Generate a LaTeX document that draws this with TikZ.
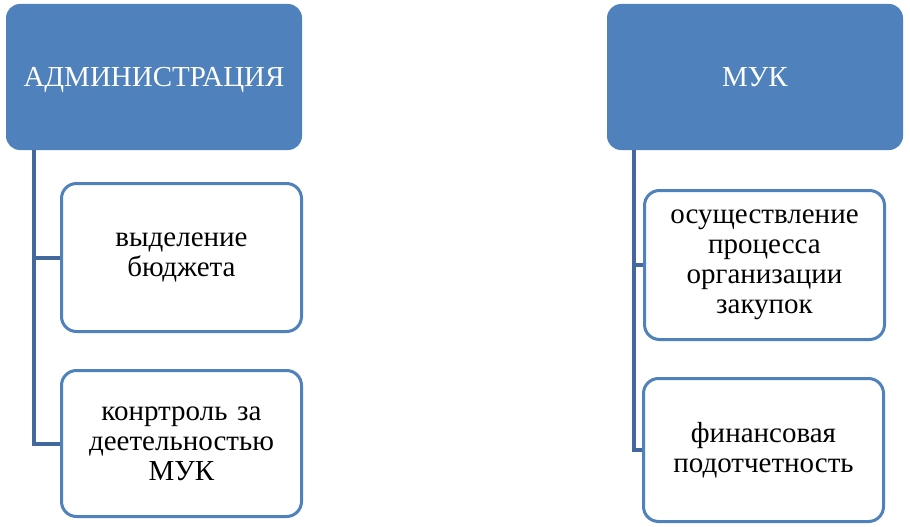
\documentclass[tikz,border=0pt]{standalone}
\usepackage{fontspec}
\setmainfont{Liberation Serif}
\usetikzlibrary{positioning}
\definecolor{headblue}{RGB}{79,129,189}
\definecolor{linkblue}{RGB}{66,104,158}

\begin{document}
\begin{tikzpicture}[x=1pt,y=-1pt,
	head/.style={fill=headblue,rounded corners=14pt,minimum width=296pt,minimum height=146pt,
		text=white,text height=19pt,text depth=0pt,font=\fontsize{29}{30}\selectfont},
	item/.style={draw=headblue,line width=3pt,fill=white,rounded corners=15pt,minimum width=240pt,
		text width=220pt,align=center,font=\fontsize{29}{30}\selectfont},
	link/.style={draw=linkblue,line width=4pt}]

	\useasboundingbox (0,0) rectangle (910,527);

	% left branch
	\node[head] (admin) at(154,77) {АДМИНИСТРАЦИЯ};
	\node[item,minimum height=148pt] (budget) at(181.5,257.5) {выделение\\ бюджета};
	\node[item,minimum height=146pt] (control) at(181.5,443.5) {конртроль за\\ деетельностью\\ МУК};
	\coordinate (ltrunk) at(34,150);
	\draw[link] (ltrunk) |- (budget.west);
	\draw[link] (ltrunk) |- (control.west);

	% right branch
	\node[head] (muk) at(755,77) {МУК};
	\node[item,minimum height=149pt] (purchase) at(764.5,265) {осуществление\\ процесса\\ организации\\ закупок};
	\node[item,minimum height=143pt] (report) at(763.5,450) {финансовая\\ подотчетность};
	\coordinate (rtrunk) at(634,150);
	\draw[link] (rtrunk) |- (purchase.west);
	\draw[link] (rtrunk) |- (report.west);
\end{tikzpicture}
\end{document}
